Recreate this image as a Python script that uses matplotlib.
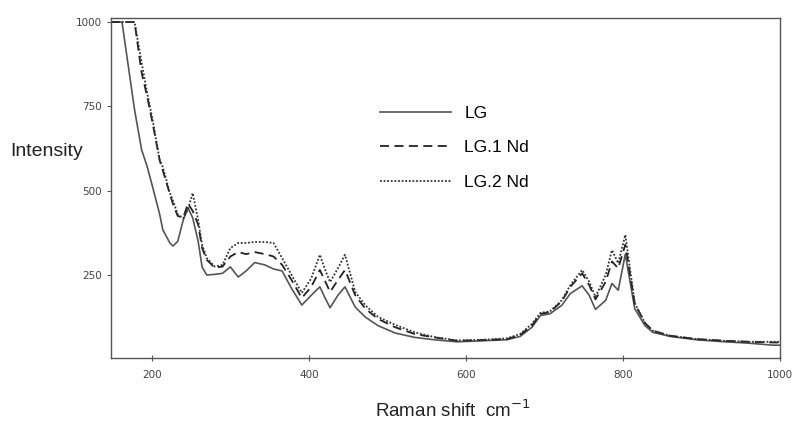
import matplotlib
matplotlib.use("Agg")
import matplotlib.pyplot as plt

# Raman spectra (intensity clipped at 1000)
shift = [148, 162, 178, 187, 194, 201, 210, 214, 223, 227, 233, 240, 246, 252,
         259, 264, 270, 280, 290, 300, 310, 320, 331, 344, 355, 366, 378, 391,
         403, 414, 420, 427, 437, 446, 459, 472, 488, 510, 535, 560, 589, 620,
         652, 669, 684, 695, 707, 722, 733, 748, 757, 765, 778, 786, 794, 803,
         815, 828, 838, 860, 894, 930, 960, 991, 1000]

lg = [1000, 1000, 740, 621, 572, 511, 430, 384, 345, 336, 350, 413, 449, 420,
      350, 274, 250, 252, 255, 274, 244, 262, 287, 280, 268, 262, 210, 161,
      190, 215, 185, 153, 190, 215, 155, 125, 100, 78, 65, 58, 52, 55,
      58, 68, 95, 130, 135, 160, 195, 218, 190, 148, 175, 225, 205, 312,
      150, 100, 80, 68, 58, 52, 48, 42, 42]

lg_1nd = [1000, 1000, 1000, 850, 780, 700, 590, 560, 490, 460, 425, 420, 462, 440,
          400, 330, 295, 272, 275, 305, 318, 312, 318, 312, 305, 280, 235, 182,
          215, 265, 235, 200, 235, 265, 190, 150, 120, 95, 75, 65, 55, 57,
          60, 72, 100, 135, 140, 172, 215, 255, 220, 178, 230, 290, 270, 340,
          165, 108, 85, 70, 60, 55, 52, 50, 50]

lg_2nd = [1000, 1000, 1000, 880, 790, 710, 591, 570, 493, 470, 430, 418, 445, 493,
          413, 340, 300, 275, 280, 330, 345, 345, 348, 348, 345, 300, 250, 197,
          240, 310, 270, 229, 270, 310, 200, 160, 126, 102, 80, 66, 56, 58,
          62, 75, 105, 138, 142, 175, 220, 265, 230, 185, 250, 324, 285, 369,
          167, 108, 85, 70, 60, 55, 52, 52, 52]

labels = ['LG', 'LG.1 Nd', 'LG.2 Nd']
xticks = [200, 400, 600, 800, 1000]
yticks = [250, 500, 750, 1000]

txt_font = ['Liberation Sans', 'DejaVu Sans']

fig = plt.figure(figsize=(7.95, 4.26), dpi=100)
ax = fig.add_axes([111/795, 1 - 358/426, (780 - 111)/795, (358 - 18)/426])

ax.plot(shift, lg, color='#555555', lw=1.2, ls='-', label=labels[0])
ax.plot(shift, lg_1nd, color='#222222', lw=1.3, ls=(0, (5, 3)), label=labels[1])
ax.plot(shift, lg_2nd, color='#333333', lw=1.3, ls=(0, (1, 1)), label=labels[2])

ax.set_xlim(148, 1000)
ax.set_ylim(4, 1012)
ax.set_xticks(xticks)
ax.set_yticks(yticks)
ax.tick_params(axis='both', labelsize=7.5, labelcolor='#444444', color='#555555',
               length=3, width=0.8)
ax.tick_params(axis='x', direction='inout', length=5, pad=6)
for sp in ax.spines.values():
    sp.set_color('#555555')
    sp.set_linewidth(1.0)

fig.text(10/795, 1 - 152/426, 'Intensity', fontsize=14, va='center', ha='left',
         color='#222222', family=txt_font)
fig.text(453/795, 1 - 410/426, 'Raman shift  cm$^{-1}$', fontsize=13.5,
         va='center', ha='center', color='#222222', family=txt_font)

ax.legend(loc='upper left', bbox_to_anchor=(380/795, 1 - 106/426),
          bbox_transform=fig.transFigure, frameon=False,
          prop={'family': txt_font, 'size': 12.5},
          handlelength=4.1, handletextpad=0.75, labelspacing=1.1,
          borderpad=0, borderaxespad=0)

fig.savefig('out.png', dpi=100)
